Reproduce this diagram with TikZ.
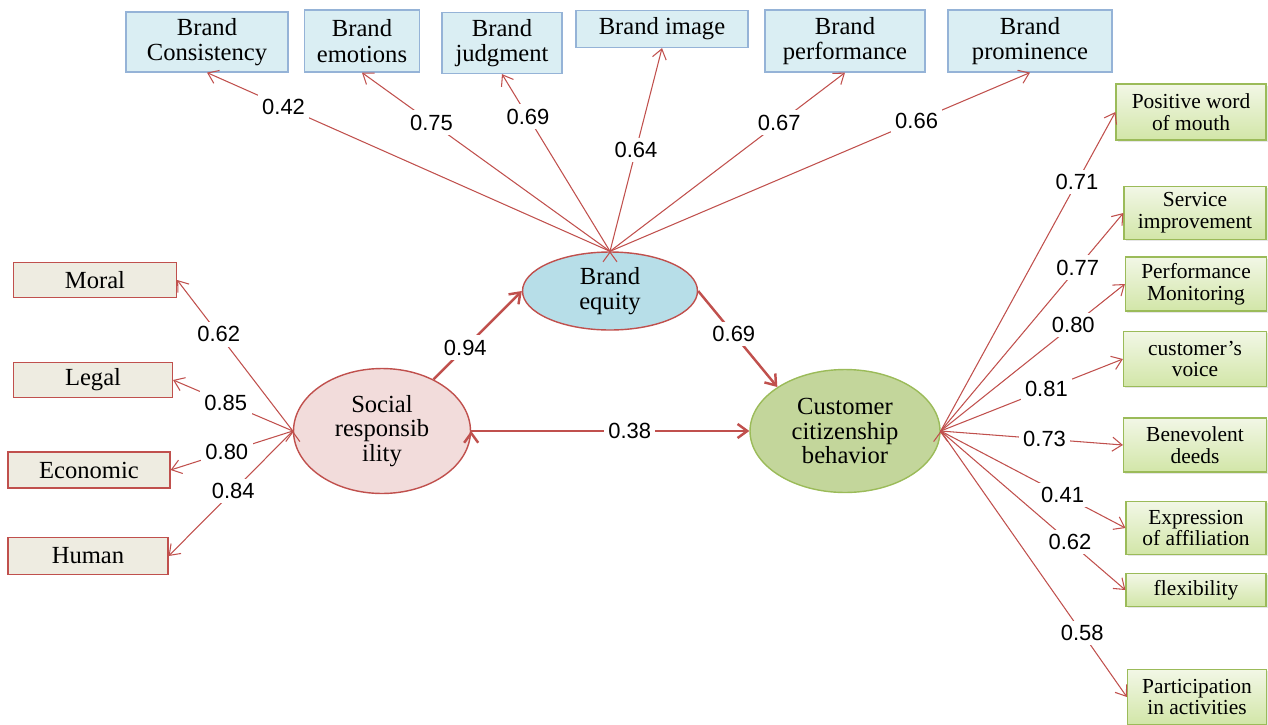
\documentclass[tikz,border=0pt]{standalone}
\usepackage{fontspec}
\setmainfont{Liberation Serif}
\setsansfont{Liberation Sans}
\usepackage{tikz}
\usetikzlibrary{arrows.meta, positioning, shapes.geometric, shadows}
\definecolor{arrowred}{HTML}{C0504D}
\definecolor{topfill}{HTML}{DAEEF3}
\definecolor{topline}{HTML}{95B3D7}
\definecolor{leftfill}{HTML}{EEECE1}
\definecolor{srfill}{HTML}{F2DCDB}
\definecolor{befill}{HTML}{B7DEE8}
\definecolor{ccbfill}{HTML}{C3D69B}
\definecolor{greenline}{HTML}{9BBB59}
\definecolor{rtop}{HTML}{F2F7E6}
\definecolor{rbot}{HTML}{D2E6A8}
\tikzset{
    >={Straight Barb[length=5.5pt,width=8pt]}, % open arrow heads
    topbox/.style={draw=topline, line width=0.7pt, fill=topfill, inner sep=0pt, align=center, font=\fontsize{14}{14.5}\selectfont}, % indicators of brand equity
    leftbox/.style={draw=arrowred, line width=0.7pt, fill=leftfill, inner sep=0pt, align=center, font=\fontsize{14}{14.5}\selectfont}, % indicators of social responsibility
    rightbox/.style={draw=greenline, line width=0.7pt, top color=rtop, bottom color=rbot, inner sep=0pt, align=center,
        drop shadow={opacity=0.2, shadow xshift=1pt, shadow yshift=-1pt}, font=\fontsize{12.2}{12.4}\selectfont}, % indicators of citizenship behavior
    latent/.style={ellipse, line width=0.8pt, inner sep=0pt, align=center, font=\fontsize{14}{13.9}\selectfont}, % latent variables
    load/.style={->, draw=arrowred, line width=0.6pt}, % loadings
    causal/.style={->, draw=arrowred, line width=1.4pt}, % structural paths
    lbl/.style={fill=white, inner sep=2.5pt, font=\sffamily\fontsize{12.5}{13}\selectfont}, % coefficients
}
\begin{document}
\begin{tikzpicture}[x=0.02cm, y=-0.02cm]
    \useasboundingbox (0,0) rectangle (1268,724);

    % latent variables
    \node[latent, draw=arrowred, fill=srfill, minimum width=3.54cm, minimum height=2.5cm] (sr) at (382,431) {Social\\responsib\\ility};
    \node[latent, draw=arrowred, fill=befill, minimum width=3.5cm, minimum height=1.56cm] (be) at (610,291) {Brand\\equity};
    \node[latent, draw=greenline, fill=ccbfill, minimum width=3.8cm, minimum height=2.46cm] (ccb) at (845,431) {Customer\\citizenship\\behavior};

    % brand equity indicators
    \node[topbox, minimum width=3.24cm, minimum height=1.2cm] (bcon) at (207,42) {Brand\\Consistency};
    \node[topbox, minimum width=2.3cm, minimum height=1.24cm] (bemo) at (362,41) {Brand\\emotions};
    \node[topbox, minimum width=2.4cm, minimum height=1.22cm] (bjud) at (502,43) {Brand\\judgment};
    \node[topbox, minimum width=3.44cm, minimum height=0.74cm] (bimg) at (662,29) {Brand image};
    \node[topbox, minimum width=3.2cm, minimum height=1.24cm] (bperf) at (845,41) {Brand\\performance};
    \node[topbox, minimum width=3.28cm, minimum height=1.24cm] (bprom) at (1030,41) {Brand\\prominence};

    % social responsibility indicators
    \node[leftbox, minimum width=3.26cm, minimum height=0.7cm] (moral) at (95,280) {Moral};
    \node[leftbox, minimum width=3.18cm, minimum height=0.7cm] (legal) at (93,380) {Legal};
    \node[leftbox, minimum width=3.24cm, minimum height=0.72cm] (econ) at (89,470) {Economic};
    \node[leftbox, minimum width=3.2cm, minimum height=0.74cm] (human) at (88,556) {Human};

    % citizenship behavior indicators
    \node[rightbox, minimum width=3.0cm, minimum height=1.12cm] (pwom) at (1191,112) {Positive word\\of mouth};
    \node[rightbox, minimum width=2.84cm, minimum height=1.06cm] (serv) at (1195,213) {Service\\improvement};
    \node[rightbox, minimum width=2.82cm, minimum height=1.08cm] (perf) at (1196,284) {Performance\\Monitoring};
    \node[rightbox, minimum width=2.86cm, minimum height=1.1cm] (voice) at (1195,359) {customer's\\voice};
    \node[rightbox, minimum width=2.86cm, minimum height=1.08cm] (bene) at (1195,445) {Benevolent\\deeds};
    \node[rightbox, minimum width=2.8cm, minimum height=1.06cm] (expr) at (1196,528) {Expression\\of affiliation};
    \node[rightbox, minimum width=2.8cm, minimum height=0.66cm] (flex) at (1196,590) {flexibility};
    \node[rightbox, minimum width=2.78cm, minimum height=1.1cm] (part) at (1197,697) {Participation\\in activities};

    \draw[load] (be.north) edge node[lbl, pos=0.81]{0.42} (bcon.south)
        (be.north) edge node[lbl, pos=0.72]{0.75} (bemo.south)
        (be.north) edge node[lbl, pos=0.76]{0.69} (bjud.south)
        (be.north) edge node[lbl, pos=0.5]{0.64} (bimg.south)
        (be.north) edge node[lbl, pos=0.72]{0.67} (bperf.south)
        (be.north) edge node[lbl, pos=0.73]{0.66} (bprom.south);

    \draw[load] (sr.west) edge node[lbl, pos=0.64]{0.62} (moral.east)
        (sr.west) edge node[lbl, pos=0.56]{0.85} (legal.east)
        (sr.west) edge node[lbl, pos=0.54]{0.80} (econ.east)
        (sr.west) edge node[lbl, pos=0.48]{0.84} (human.east);

    \draw[load] (ccb.east) edge node[lbl, pos=0.78]{0.71} (pwom.west)
        (ccb.east) edge node[lbl, pos=0.75]{0.77} (serv.west)
        (ccb.east) edge node[lbl, pos=0.72]{0.80} (perf.west)
        (ccb.east) edge node[lbl, pos=0.58]{0.81} (voice.west)
        (ccb.east) edge node[lbl, pos=0.57]{0.73} (bene.west)
        (ccb.east) edge node[lbl, pos=0.66]{0.41} (expr.west)
        (ccb.east) edge node[lbl, pos=0.7]{0.62} (flex.west)
        (ccb.east) edge node[lbl, pos=0.76]{0.58} (part.west);

    \draw[causal] (sr) edge node[lbl, pos=0.36]{0.94} (be.west)
        (be.east) edge node[lbl, pos=0.45]{0.69} (ccb.north west)
        (sr.east) edge node[lbl, pos=0.57]{0.38} (ccb.west);

\end{tikzpicture}
\end{document}
